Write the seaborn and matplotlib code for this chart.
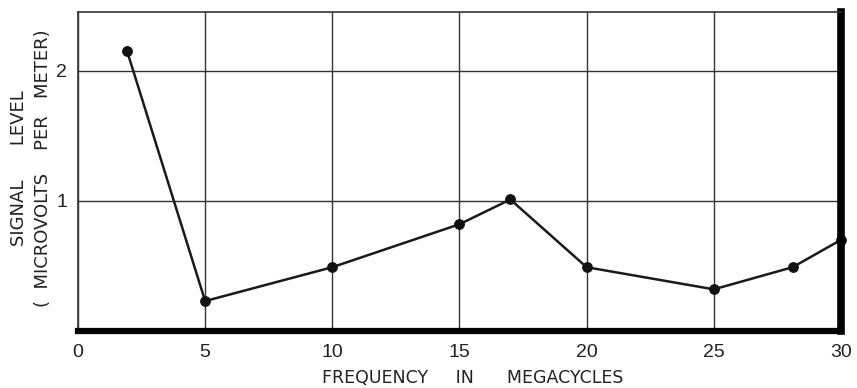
import matplotlib
matplotlib.use("Agg")
import matplotlib.pyplot as plt
import seaborn as sns
import pandas as pd

freq = [1.93, 5, 10, 15, 17, 20, 25, 28.1, 30]
signal = [2.15, 0.23, 0.49, 0.82, 1.01, 0.49, 0.32, 0.49, 0.70]
xticks = [0, 5, 10, 15, 20, 25, 30]
xticklabels = ["0", "5", "10", "15", "20", "25", "30"]
yticks = [1, 2]
yticklabels = ["1", "2"]

sns.set_theme(style="white")
plt.rcParams["font.family"] = ["Liberation Sans", "DejaVu Sans"]

df = pd.DataFrame({"freq": freq, "signal": signal})

fig = plt.figure(figsize=(8.57, 3.88), dpi=100)
ax = fig.add_axes([0.0910, 0.1469, 0.8903, 0.8222])

sns.lineplot(data=df, x="freq", y="signal", ax=ax, color="#1a1a1a", lw=1.8,
             marker="o", markersize=7, markeredgecolor="#111111",
             markerfacecolor="#111111", clip_on=False, zorder=2)

ax.set_xlim(0, 30)
ax.set_ylim(0, 2.45)
ax.set_xticks(xticks)
ax.set_xticklabels(xticklabels, fontsize=14, color="#222222")
ax.set_yticks(yticks)
ax.set_yticklabels(yticklabels, fontsize=14, color="#222222")
ax.tick_params(axis="x", length=0, pad=9)
ax.tick_params(axis="y", length=0, pad=8)
ax.grid(True, color="#333333", lw=1.0)
ax.set_axisbelow(True)

for s in ["left", "top"]:
    ax.spines[s].set_color("#333333")
    ax.spines[s].set_linewidth(1.2)
ax.spines["bottom"].set_color("#000000")
ax.spines["bottom"].set_linewidth(4.5)
ax.spines["right"].set_color("#000000")
ax.spines["right"].set_linewidth(5.5)
for s in ax.spines.values():
    s.set_zorder(5)

ax.set_xlabel("FREQUENCY     IN      MEGACYCLES", fontsize=12.5, color="#222222",
              family=["DejaVu Sans"])
ax.xaxis.set_label_coords(0.517, -0.120)
ax.set_ylabel("SIGNAL      LEVEL\n(  MICROVOLTS    PER   METER)", fontsize=13,
              color="#222222", linespacing=1.4, family=["DejaVu Sans"])
ax.yaxis.set_label_coords(-0.034, 0.51)

fig.savefig("out.png", dpi=100)
